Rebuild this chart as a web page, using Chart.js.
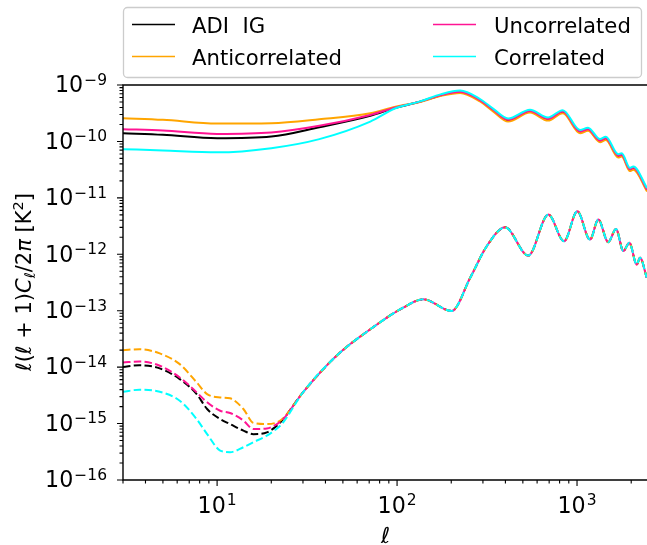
<!DOCTYPE html>
<html lang="en">
<head>
    <meta charset="UTF-8">
    <title>CMB spectra</title>
    <script src="https://cdn.jsdelivr.net/npm/chart.js"></script>
    <style>
        body { margin: 0; background: #fff; }
    </style>
</head>
<body>
    <canvas id="clChart" width="647" height="545"></canvas>

    <script>
        // multipoles of the upper (solid) curves
        const ellTT = [3, 5, 10, 20, 37, 71, 98, 134, 176, 224, 289, 343, 414, 548, 690, 833, 1039, 1151, 1342, 1444, 1695, 1771, 1968, 2054, 2450];
        const ttAdi  = [1.40e-10, 1.31e-10, 1.14e-10, 1.22e-10, 1.79e-10, 2.85e-10, 3.95e-10, 5.05e-10, 6.6e-10, 7.55e-10, 5.35e-10, 3.57e-10, 2.38e-10, 3.42e-10, 2.48e-10, 3.34e-10, 1.48e-10, 1.63e-10, 1.03e-10, 1.13e-10, 5.5e-11, 5.7e-11, 3.15e-11, 3.35e-11, 1.38e-11];
        const ttAnti = [2.58e-10, 2.41e-10, 2.07e-10, 2.10e-10, 2.47e-10, 3.16e-10, 4.14e-10, 5.0e-10, 6.45e-10, 7.25e-10, 5.1e-10, 3.38e-10, 2.25e-10, 3.25e-10, 2.34e-10, 3.16e-10, 1.40e-10, 1.54e-10, 0.97e-10, 1.06e-10, 5.2e-11, 5.4e-11, 2.98e-11, 3.16e-11, 1.30e-11];
        const ttUnc  = [1.65e-10, 1.56e-10, 1.36e-10, 1.44e-10, 1.89e-10, 2.95e-10, 4.0e-10, 5.07e-10, 6.65e-10, 7.6e-10, 5.4e-10, 3.6e-10, 2.41e-10, 3.46e-10, 2.51e-10, 3.38e-10, 1.50e-10, 1.65e-10, 1.04e-10, 1.14e-10, 5.6e-11, 5.8e-11, 3.2e-11, 3.4e-11, 1.4e-11];
        const ttCorr = [7.3e-11, 6.9e-11, 6.4e-11, 7.6e-11, 1.10e-10, 2.25e-10, 3.87e-10, 5.12e-10, 6.9e-10, 7.95e-10, 5.65e-10, 3.78e-10, 2.55e-10, 3.66e-10, 2.66e-10, 3.58e-10, 1.59e-10, 1.75e-10, 1.10e-10, 1.21e-10, 5.95e-11, 6.15e-11, 3.4e-11, 3.6e-11, 1.49e-11];

        // lower (dashed) curves: separate at low ell, shared tail after ~25
        const ellLow = [3, 3.7, 4.8, 6.2, 7.7, 8.8, 10.4, 11.8, 14, 15.9, 18.9, 21.5, 23.3];
        const eeAdi  = [1.01e-14, 1.08e-14, 9.5e-15, 6.14e-15, 3.33e-15, 1.81e-15, 1.2e-15, 9.8e-16, 7.5e-16, 6.5e-16, 7.0e-16, 9.2e-16, 1.2e-15];
        const eeAnti = [2.0e-14, 2.08e-14, 1.75e-14, 1.13e-14, 5.36e-15, 3.33e-15, 2.91e-15, 2.8e-15, 1.81e-15, 1.03e-15, 9.8e-16, 1.05e-15, 1.24e-15];
        const eeUnc  = [1.21e-14, 1.26e-14, 1.06e-14, 6.56e-15, 3.57e-15, 2.38e-15, 1.69e-15, 1.54e-15, 1.13e-15, 8.0e-16, 8.2e-16, 9.8e-16, 1.2e-15];
        const eeCorr = [3.66e-15, 3.98e-15, 3.66e-15, 2.54e-15, 1.2e-15, 6.5e-16, 3.33e-16, 3.11e-16, 3.81e-16, 4.67e-16, 6.12e-16, 8.2e-16, 1.05e-15];
        const ellTail = [30, 46, 71, 108, 140, 201, 255, 315, 398, 536, 693, 847, 1004, 1181, 1313, 1491, 1647, 1808, 1953, 2147, 2240, 2440];
        const eeTail  = [3.57e-15, 1.58e-14, 4.69e-14, 1.13e-13, 1.59e-13, 9.9e-14, 3.84e-13, 1.39e-12, 3.0e-12, 9.5e-13, 5.05e-12, 1.70e-12, 5.78e-12, 1.82e-12, 4.12e-12, 1.64e-12, 2.82e-12, 1.14e-12, 1.6e-12, 6.6e-13, 8.7e-13, 3.85e-13];

        const labels = ['ADI  IG', 'Anticorrelated', 'Uncorrelated', 'Correlated'];
        const colors = ['#000000', '#ffa500', '#ff1493', '#00ffff'];
        const ttSets = [ttAdi, ttAnti, ttUnc, ttCorr];
        const eeSets = [eeAdi, eeAnti, eeUnc, eeCorr];

        const xMajor = [10, 100, 1000];
        const yExp = [-16, -15, -14, -13, -12, -11, -10, -9];

        const FONT = '"DejaVu Sans"';

        function pts(xs, ys) {
            return xs.map((x, i) => ({ x: x, y: ys[i] }));
        }

        const datasets = [];
        ttSets.forEach((s, i) => {
            datasets.push({
                label: labels[i],
                data: pts(ellTT, s),
                borderColor: colors[i],
                borderWidth: 2,
                order: 4 - i
            });
        });
        eeSets.forEach((s, i) => {
            datasets.push({
                label: labels[i] + ' (dashed)',
                data: pts(ellLow, s).concat(pts(ellTail, eeTail)),
                borderColor: colors[i],
                borderWidth: 2,
                borderDash: [7.5, 3.3],
                order: 4 - i
            });
        });

        // draws "10^exp" with a raised exponent
        function powLabel(ctx, exp, x, base, align) {
            const sup = String(exp).replace('-', '\u2212');
            ctx.font = '22.2px ' + FONT;
            const w1 = ctx.measureText('10').width;
            ctx.font = '15.5px ' + FONT;
            const w2 = ctx.measureText(sup).width;
            let x0 = align === 'right' ? x - w1 - w2 - 1 : x - (w1 + w2 + 1) / 2;
            ctx.textAlign = 'left';
            ctx.textBaseline = 'alphabetic';
            ctx.font = '22.2px ' + FONT;
            ctx.fillText('10', x0, base);
            ctx.font = '15.5px ' + FONT;
            ctx.fillText(sup, x0 + w1 + 1, base - 7.5);
        }

        const axesPlugin = {
            id: 'axesPlugin',
            afterDatasetsDraw(chart) {
                const ctx = chart.ctx;
                const xs = chart.scales.x, ys = chart.scales.y;
                const a = chart.chartArea;
                ctx.save();
                ctx.fillStyle = '#000';
                ctx.strokeStyle = '#000';
                ctx.lineWidth = 1.4;

                // spines (no right spine in view)
                ctx.beginPath();
                ctx.moveTo(a.right + 2, a.top);
                ctx.lineTo(a.left, a.top);
                ctx.lineTo(a.left, a.bottom);
                ctx.lineTo(a.right + 2, a.bottom);
                ctx.stroke();

                // y ticks
                ctx.lineWidth = 1.1;
                ctx.beginPath();
                yExp.forEach(e => {
                    const py = ys.getPixelForValue(Math.pow(10, e));
                    ctx.moveTo(a.left - 6, py); ctx.lineTo(a.left, py);
                    if (e < -9) {
                        for (let m = 2; m <= 9; m++) {
                            const q = ys.getPixelForValue(m * Math.pow(10, e));
                            ctx.moveTo(a.left - 3.5, q); ctx.lineTo(a.left, q);
                        }
                    }
                });
                // x ticks
                [1, 10, 100, 1000].forEach(d => {
                    for (let m = 1; m <= 9; m++) {
                        const v = m * d;
                        if (v < 3 || v > 2448) continue;
                        const px = xs.getPixelForValue(v);
                        const len = m === 1 ? 6 : 3.5;
                        ctx.moveTo(px, a.bottom); ctx.lineTo(px, a.bottom + len);
                    }
                });
                ctx.stroke();

                yExp.forEach(e => {
                    const py = ys.getPixelForValue(Math.pow(10, e));
                    powLabel(ctx, e, 107, py + 7.3, 'right');
                });
                xMajor.forEach(v => {
                    const px = xs.getPixelForValue(v);
                    powLabel(ctx, Math.round(Math.log10(v)), px, 512.5, 'center');
                });

                // x label
                ctx.font = 'italic 22.2px ' + FONT;
                ctx.textAlign = 'center';
                ctx.fillText('\u2113', (a.left + 648) / 2, 543);

                // y label, rotated
                const parts = [
                    ['\u2113', 'italic 21px', 0],
                    ['(', '21px', 0],
                    ['\u2113', 'italic 21px', 0],
                    [' + 1)', '21px', 0],
                    ['C', 'italic 21px', 0],
                    ['\u2113', 'italic 14.7px', 4],
                    ['/2', '21px', 0],
                    ['\u03c0', 'italic 21px', 0],
                    [' [K', '21px', 0],
                    ['2', '14.7px', -8],
                    [']', '21px', 0]
                ];
                let total = 0;
                parts.forEach(p => { ctx.font = p[1] + ' ' + FONT; total += ctx.measureText(p[0]).width; });
                ctx.translate(31, 282);
                ctx.rotate(-Math.PI / 2);
                ctx.textAlign = 'left';
                let cx = -total / 2;
                parts.forEach(p => {
                    ctx.font = p[1] + ' ' + FONT;
                    ctx.fillText(p[0], cx, p[2]);
                    cx += ctx.measureText(p[0]).width;
                });
                ctx.restore();

                // legend
                ctx.save();
                ctx.fillStyle = 'rgba(255,255,255,0.8)';
                ctx.strokeStyle = '#cccccc';
                ctx.lineWidth = 1.3;
                ctx.beginPath();
                ctx.roundRect(123.5, 7.5, 518, 70, 4);
                ctx.fill();
                ctx.stroke();
                const cols = [[132, 192], [433, 494]];
                const rows = [[24.5, 32.8], [56.5, 64.5]];
                ctx.font = '21.2px ' + FONT;
                ctx.textAlign = 'left';
                ctx.textBaseline = 'alphabetic';
                labels.forEach((lab, i) => {
                    const c = cols[Math.floor(i / 2)], r = rows[i % 2];
                    ctx.strokeStyle = colors[i];
                    ctx.lineWidth = 1.5;
                    ctx.beginPath();
                    ctx.moveTo(c[0], r[0]); ctx.lineTo(c[0] + 43, r[0]);
                    ctx.stroke();
                    ctx.fillStyle = '#000';
                    ctx.fillText(lab, c[1], r[1]);
                });
                ctx.restore();
            }
        };

        const ctx = document.getElementById('clChart').getContext('2d');
        new Chart(ctx, {
            type: 'line',
            data: { datasets: datasets },
            options: {
                responsive: false,
                animation: false,
                devicePixelRatio: 1,
                layout: { padding: { left: 123, top: 85, right: 0, bottom: 65 } },
                elements: {
                    point: { radius: 0 },
                    line: { cubicInterpolationMode: 'monotone' }
                },
                scales: {
                    x: { type: 'logarithmic', min: 3, max: 2448, display: false },
                    y: { type: 'logarithmic', min: 1e-16, max: 1e-9, display: false }
                },
                plugins: {
                    legend: { display: false },
                    tooltip: { enabled: false }
                }
            },
            plugins: [axesPlugin]
        });
    </script>
</body>
</html>
